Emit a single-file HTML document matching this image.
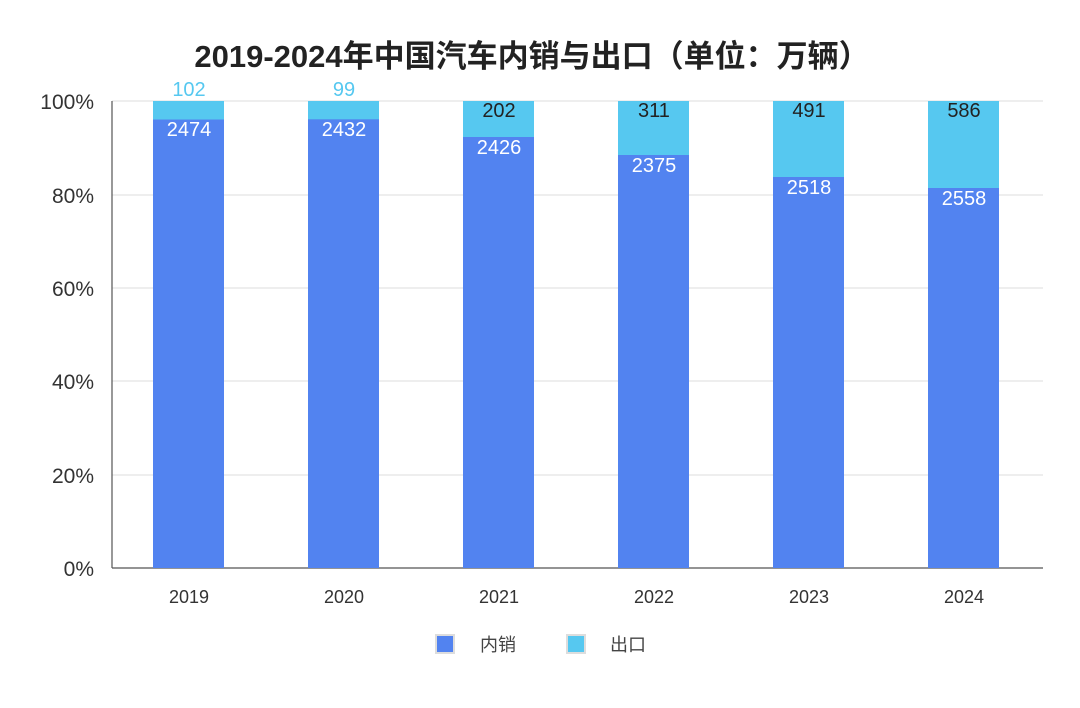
<!DOCTYPE html>
<html><head><meta charset="utf-8"><style>body{margin:0;background:#fff}svg{display:block}</style></head><body>
<svg width="1080" height="708" xmlns="http://www.w3.org/2000/svg" font-family="'Liberation Sans','Noto Sans CJK SC',sans-serif">
<text x="532" y="67" text-anchor="middle" font-size="31" font-weight="bold" fill="#222">2019-2024年中国汽车内销与出口（单位：万辆）</text>
<g stroke="#ddd" stroke-width="1">
<line x1="112" y1="101" x2="1043" y2="101"/><line x1="112" y1="195" x2="1043" y2="195"/><line x1="112" y1="288" x2="1043" y2="288"/><line x1="112" y1="381" x2="1043" y2="381"/><line x1="112" y1="475" x2="1043" y2="475"/>
</g>
<line x1="112" y1="568" x2="1043" y2="568" stroke="#555" stroke-width="1.2"/>
<line x1="112" y1="101" x2="112" y2="568" stroke="#555" stroke-width="1.2"/>
<g font-size="21" fill="#333" text-anchor="end">
<text x="94" y="109">100%</text><text x="94" y="203">80%</text><text x="94" y="296">60%</text><text x="94" y="389">40%</text><text x="94" y="483">20%</text><text x="94" y="576">0%</text>
</g>
<g fill="#56C8F0">
<rect x="153" y="101" width="71" height="467"/><rect x="308" y="101" width="71" height="467"/><rect x="463" y="101" width="71" height="467"/><rect x="618" y="101" width="71" height="467"/><rect x="773" y="101" width="71" height="467"/><rect x="928" y="101" width="71" height="467"/>
</g>
<g fill="#5283F0">
<rect x="153" y="119.5" width="71" height="448.5"/><rect x="308" y="119.3" width="71" height="448.7"/><rect x="463" y="137" width="71" height="431"/><rect x="618" y="155" width="71" height="413"/><rect x="773" y="177" width="71" height="391"/><rect x="928" y="188" width="71" height="380"/>
</g>
<g font-size="20" fill="#fff" text-anchor="middle">
<text x="189" y="136">2474</text><text x="344" y="136">2432</text><text x="499" y="154">2426</text><text x="654" y="172">2375</text><text x="809" y="194">2518</text><text x="964" y="205">2558</text>
</g>
<g font-size="20" text-anchor="middle">
<text x="189" y="96" fill="#56C8F0">102</text><text x="344" y="96" fill="#56C8F0">99</text>
<text x="499" y="117" fill="#222">202</text><text x="654" y="117" fill="#222">311</text><text x="809" y="117" fill="#222">491</text><text x="964" y="117" fill="#222">586</text>
</g>
<g font-size="18" fill="#333" text-anchor="middle">
<text x="189" y="603">2019</text><text x="344" y="603">2020</text><text x="499" y="603">2021</text><text x="654" y="603">2022</text><text x="809" y="603">2023</text><text x="964" y="603">2024</text>
</g>
<rect x="436" y="635" width="18" height="18" fill="#5283F0" stroke="#ddd" stroke-width="2"/>
<text x="480" y="651" font-size="18" fill="#444">内销</text>
<rect x="567" y="635" width="18" height="18" fill="#56C8F0" stroke="#ddd" stroke-width="2"/>
<text x="610" y="651" font-size="18" fill="#444">出口</text>
</svg>
</body></html>
